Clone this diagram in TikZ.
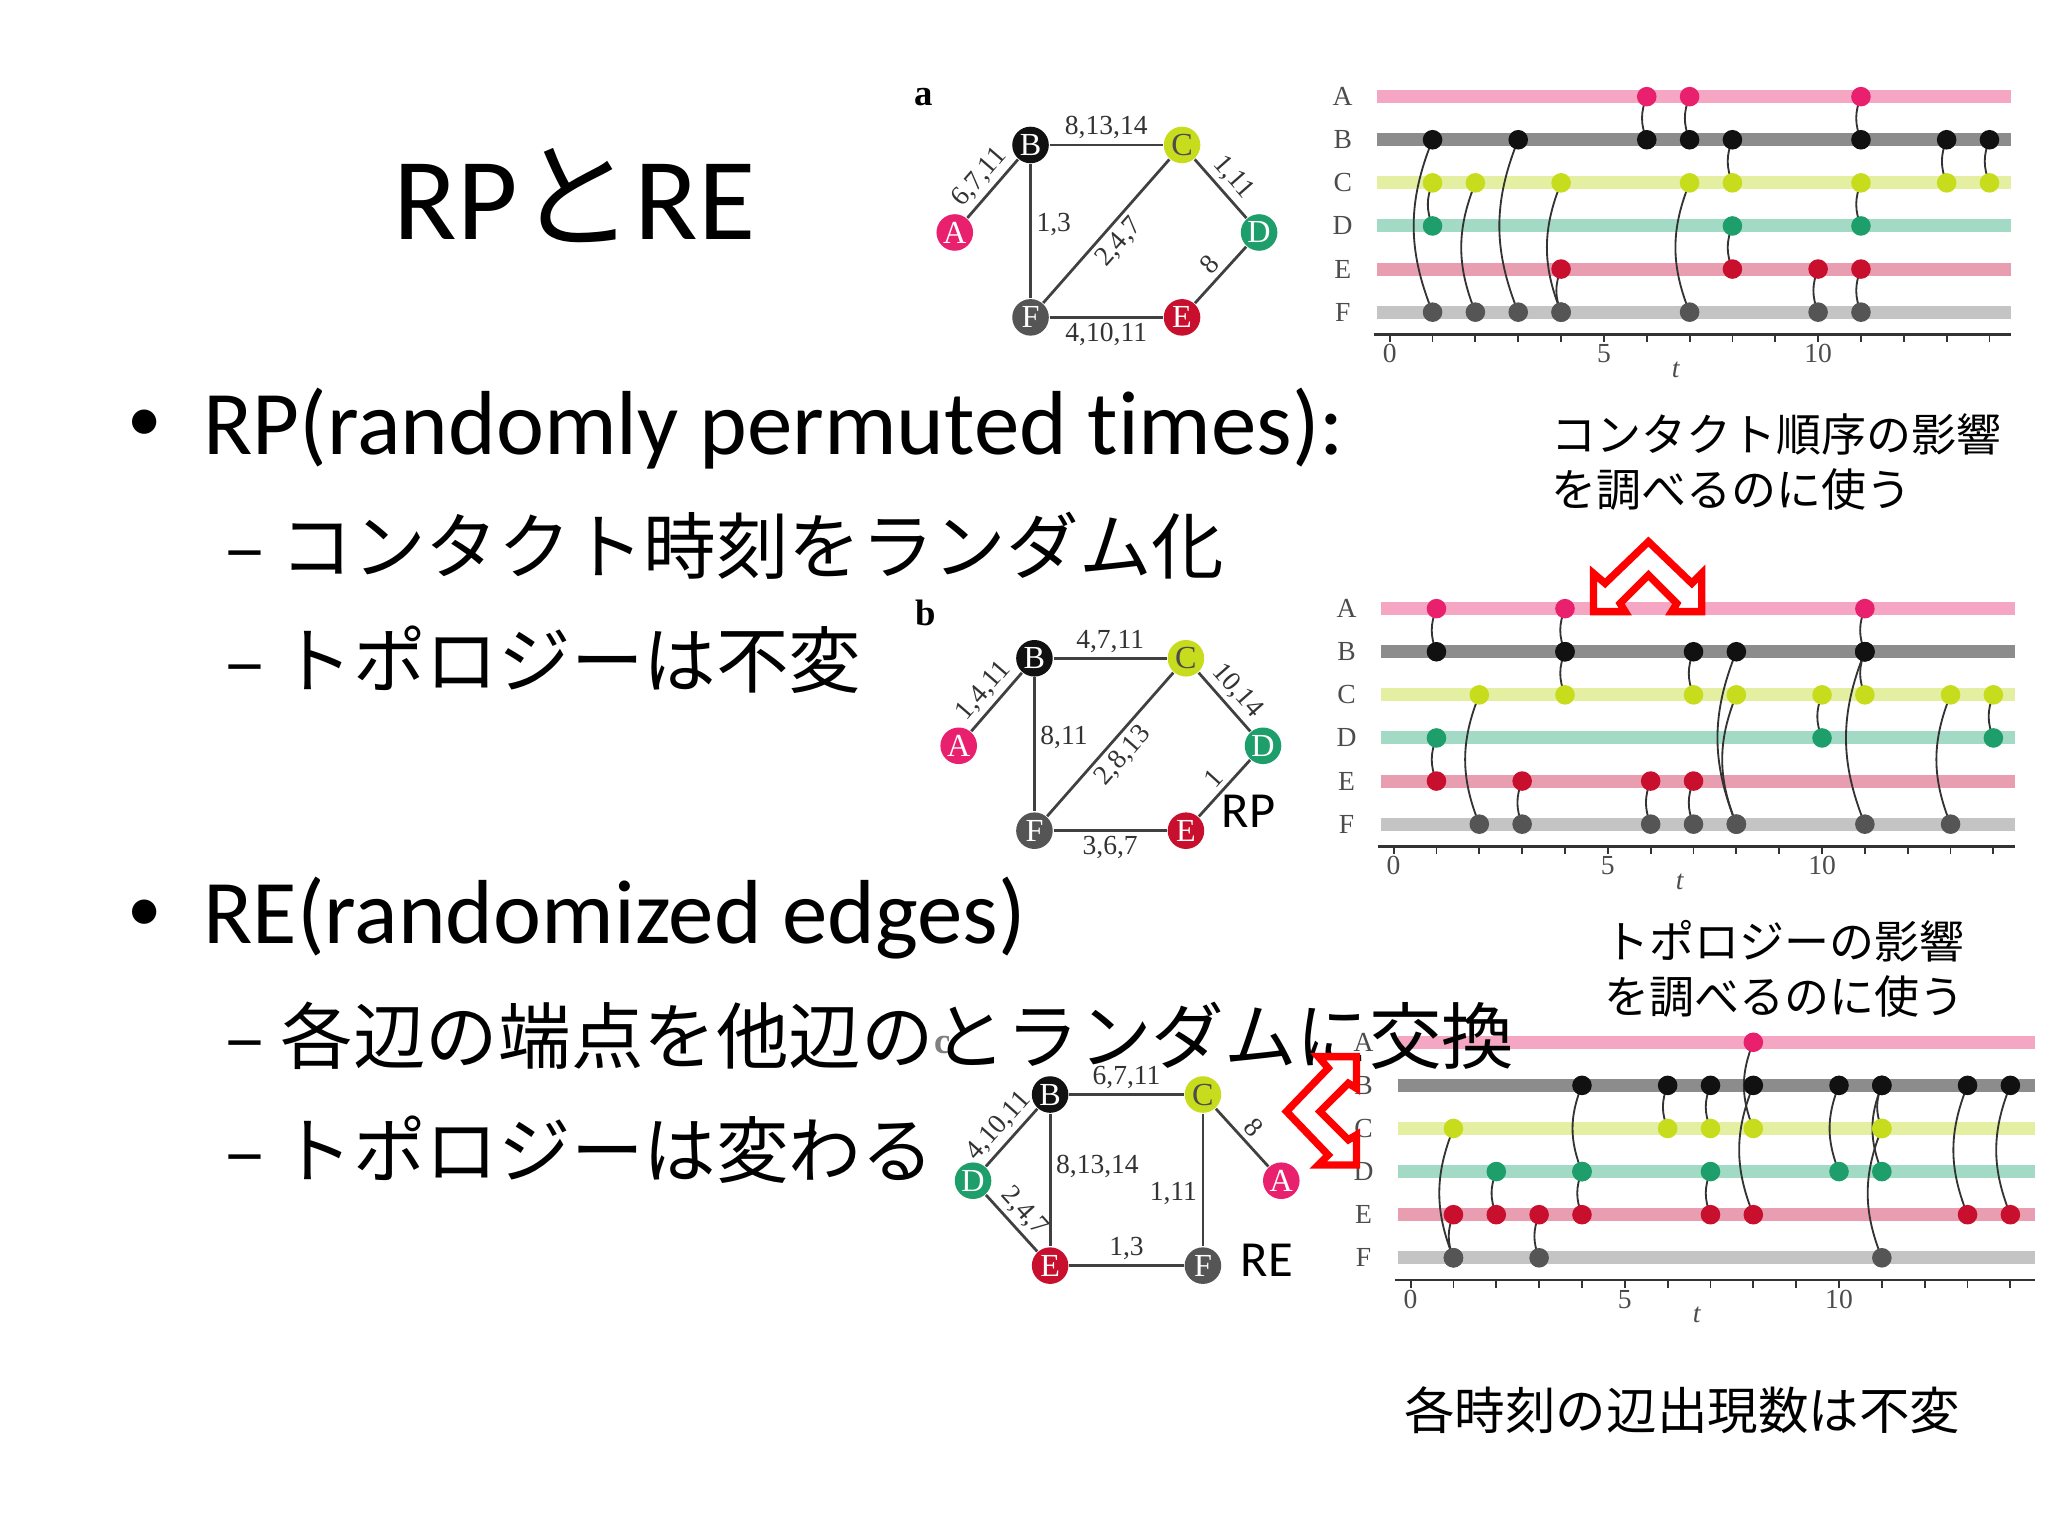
\documentclass[tikz,border=0pt]{standalone}
\usepackage{fontspec}
\setmainfont[Ligatures={NoCommon}]{Carlito}
\newfontfamily\jp{Noto Sans CJK JP}
\newfontfamily\ser{Liberation Serif}
\definecolor{row0}{HTML}{E8206E}\definecolor{row1}{HTML}{111111}
\definecolor{row2}{HTML}{C8DC1E}\definecolor{row3}{HTML}{1E9E6A}
\definecolor{row4}{HTML}{C8102E}\definecolor{row5}{HTML}{555555}
\definecolor{bar0}{HTML}{F4A6C2}\definecolor{bar1}{HTML}{8C8C8C}
\definecolor{bar2}{HTML}{E4EFA2}\definecolor{bar3}{HTML}{A2DAC6}
\definecolor{bar4}{HTML}{E89EB0}\definecolor{bar5}{HTML}{C4C4C4}
\tikzset{
 gnode/.style={circle,inner sep=0pt,minimum size=28*0.01cm,font=\ser\fontsize{7}{7}\selectfont,text=white},
 gedge/.style={draw=black!75,line width=0.6pt},
 elab/.style={font=\ser\fontsize{6}{6}\selectfont,inner sep=1pt,text=black!80},
 conn/.style={draw=black!80,line width=0.4pt},
 jtext/.style={anchor=west,font=\jp\fontsize{15.8}{15.8}\selectfont,inner sep=0pt},
 ltext/.style={anchor=west,font=\fontsize{19.8}{19.8}\selectfont,inner sep=0pt},
 note/.style={anchor=west,font=\jp\fontsize{9.8}{12}\selectfont,inner sep=0pt,align=left},
 chev/.style={draw=red,line width=1.6pt,fill=white,line join=miter}
}
\newcommand\tline[4]{% x0, y0, width, contacts a/b/t
 \foreach \r in {0,...,5}{
   \draw[bar\r,line width=10*0.01cm] ({#1-10},{#2+33*\r}) -- ({#1+#3},{#2+33*\r});
   \node[font=\ser\fontsize{6}{6}\selectfont,text=black!70] at ({#1-36},{#2+33*\r}) {\ifcase\r A\or B\or C\or D\or E\or F\fi};
 }
 \foreach \a/\b/\t in {#4}{
   \draw[conn] ({#1+32.8*\t},{#2+33*\a}) to[bend right=22] ({#1+32.8*\t},{#2+33*\b});
 }
 \foreach \a/\b/\t in {#4}{
   \fill[row\a] ({#1+32.8*\t},{#2+33*\a}) circle (7.5*0.01cm);
   \fill[row\b] ({#1+32.8*\t},{#2+33*\b}) circle (7.5*0.01cm);
 }
 \draw[black!80,line width=0.6pt] ({#1-12},{#2+182}) -- ({#1+#3},{#2+182});
 \foreach \k in {0,...,14}{\draw[black!80] ({#1+32.8*\k},{#2+182}) -- ({#1+32.8*\k},{#2+188});}
 \foreach \k in {0,5,10}{\node[font=\ser\fontsize{6}{6}\selectfont,text=black!70] at ({#1+32.8*\k},{#2+197}) {\k};}
 \node[font=\ser\itshape\fontsize{6}{6}\selectfont,text=black!70] at ({#1+219},{#2+209}) {t};
}
\begin{document}
\begin{tikzpicture}[x=0.01cm,y=-0.01cm]
\useasboundingbox (0,0) rectangle (1568,1176);
\fill[white] (0,0) rectangle (1568,1176);
% texts
\node[font=\fontsize{25.5}{25.5}\selectfont] (title) at (440,150) {RP{\jp と}RE};
\node[anchor=west,font=\fontsize{15}{15}\selectfont,inner sep=0pt] (b1dot) at (97,326) {•};
\node[ltext] (b1) at (155,328) {RP(randomly permuted times):};
\node[jtext] (s1) at (172,418) {– コンタクト時刻をランダム化};
\node[jtext] (s2) at (172,505) {– トポロジーは不変};
\node[anchor=west,font=\fontsize{15}{15}\selectfont,inner sep=0pt] (b2dot) at (97,701) {•};
\node[ltext] (b2) at (155,703) {RE(randomized edges)};
\node[note] (n1) at (1187,354) {コンタクト順序の影響\\を調べるのに使う};
\node[note] (n2) at (1228,742) {トポロジーの影響\\を調べるのに使う};
\node[font=\jp\fontsize{11}{11}\selectfont] (n3) at (1288,1080) {各時刻の辺出現数は不変};
% ---------- panel a
\node[font=\ser\bfseries\fontsize{8}{8}\selectfont] (la) at (707,74) {a};
\node[gnode,fill=row0] (aA) at (731,178) {A};
\node[gnode,fill=row1] (aB) at (789,111) {B};
\node[gnode,fill=row2,text=black!70] (aC) at (905,111) {C};
\node[gnode,fill=row3] (aD) at (964,178) {D};
\node[gnode,fill=row4] (aE) at (905,243) {E};
\node[gnode,fill=row5] (aF) at (789,243) {F};
\draw[gedge] (aA) -- node[elab,sloped,above] {6,7,11} (aB);
\draw[gedge] (aB) -- node[elab,above] {8,13,14} (aC);
\draw[gedge] (aC) -- node[elab,sloped,above] {1,11} (aD);
\draw[gedge] (aE) -- node[elab,sloped,above] {8} (aD);
\draw[gedge] (aF) -- node[elab,below] {4,10,11} (aE);
\draw[gedge] (aB) -- node[elab,right,pos=0.45] {1,3} (aF);
\draw[gedge] (aF) -- node[elab,sloped,below] {2,4,7} (aC);
\tline{1064}{74}{476}{0/1/6,0/1/7,0/1/11,1/2/8,1/2/13,1/2/14,2/3/1,2/3/11,3/4/8,4/5/4,4/5/10,4/5/11,1/5/1,1/5/3,2/5/2,2/5/4,2/5/7}
% ---------- panel b
\node[font=\ser\bfseries\fontsize{8}{8}\selectfont] (lb) at (709,469) {b};
\node[gnode,fill=row0] (bA) at (734,571) {A};
\node[gnode,fill=row1] (bB) at (792,504) {B};
\node[gnode,fill=row2,text=black!70] (bC) at (908,504) {C};
\node[gnode,fill=row3] (bD) at (967,571) {D};
\node[gnode,fill=row4] (bE) at (908,636) {E};
\node[gnode,fill=row5] (bF) at (792,636) {F};
\draw[gedge] (bA) -- node[elab,sloped,above] {1,4,11} (bB);
\draw[gedge] (bB) -- node[elab,above] {4,7,11} (bC);
\draw[gedge] (bC) -- node[elab,sloped,above] {10,14} (bD);
\draw[gedge] (bE) -- node[elab,sloped,above] {1} (bD);
\draw[gedge] (bF) -- node[elab,below] {3,6,7} (bE);
\draw[gedge] (bB) -- node[elab,right,pos=0.45] {8,11} (bF);
\draw[gedge] (bF) -- node[elab,sloped,below] {2,8,13} (bC);
\node[font=\fontsize{11}{11}\selectfont] (rp) at (956,621) {RP};
\tline{1067}{466}{476}{0/1/1,0/1/4,0/1/11,1/2/4,1/2/7,1/2/11,2/3/10,2/3/14,3/4/1,4/5/3,4/5/6,4/5/7,1/5/8,1/5/11,2/5/2,2/5/8,2/5/13}
% ---------- panel c
\node[font=\ser\bfseries\fontsize{8}{8}\selectfont,text=black!50] (lc) at (722,800) {c};
\node[gnode,fill=row1] (cB) at (804,838) {B};
\node[gnode,fill=row2,text=black!70] (cC) at (921,838) {C};
\node[gnode,fill=row3] (cD) at (745,904) {D};
\node[gnode,fill=row4] (cE) at (804,969) {E};
\node[gnode,fill=row5] (cF) at (921,969) {F};
\node[gnode,fill=row0] (cA) at (981,904) {A};
\draw[gedge] (cB) -- node[elab,above] {6,7,11} (cC);
\draw[gedge] (cD) -- node[elab,sloped,above] {4,10,11} (cB);
\draw[gedge] (cB) -- node[elab,right,pos=0.4] {8,13,14} (cE);
\draw[gedge] (cC) -- node[elab,sloped,above] {8} (cA);
\draw[gedge] (cC) -- node[elab,left,pos=0.6] {1,11} (cF);
\draw[gedge] (cD) -- node[elab,sloped,above] {2,4,7} (cE);
\draw[gedge] (cE) -- node[elab,above] {1,3} (cF);
\node[font=\fontsize{11}{11}\selectfont] (re) at (970,965) {RE};
\tline{1080}{798}{478}{0/2/8,1/2/6,1/2/7,1/2/11,1/3/4,1/3/10,1/3/11,1/4/8,1/4/13,1/4/14,2/5/1,2/5/11,3/4/2,3/4/4,3/4/7,4/5/1,4/5/3}
% sub items over panel c
\node[jtext] (s3) at (172,793) {– 各辺の端点を他辺のとランダムに交換};
\node[jtext] (s4) at (172,880) {– トポロジーは変わる};
% chevrons
\draw[chev] (1220,439) -- (1220,468.3) -- (1244.3,468.3) -- (1240.4,462) -- (1262.1,440.3) -- (1283.8,462) -- (1279.9,468.3) -- (1302.9,468.3) -- (1302.9,439) -- (1295.3,446.6) -- (1262.1,414.7) -- (1228.9,446.6) -- cycle;
\draw[chev] (1009.3,809) -- (1038.6,809) -- (1038.6,833.3) -- (1032.3,829.4) -- (1010.6,851) -- (1032.3,872.7) -- (1038.6,868.9) -- (1038.6,891.9) -- (1009.3,891.9) -- (1016.9,884.3) -- (985,851) -- (1016.9,817.8) -- cycle;
\end{tikzpicture}
\end{document}
